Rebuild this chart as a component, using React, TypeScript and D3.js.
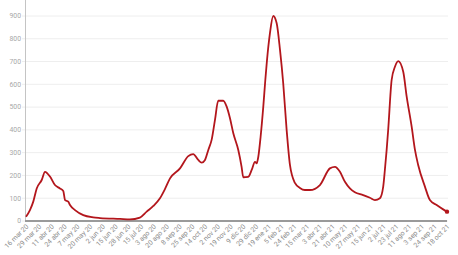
import React from "react";
import * as d3 from "d3";

const tickLabels = [
  "16 mar 20", "29 mar 20", "11 abr 20", "24 abr 20", "7 may 20", "20 may 20",
  "2 jun 20", "15 jun 20", "28 jun 20", "15 jul 20", "3 ago 20", "20 ago 20",
  "8 sep 20", "25 sep 20", "14 oct 20", "2 nov 20", "19 nov 20", "9 dic 20",
  "29 dic 20", "19 ene 21", "5 feb 21", "24 feb 21", "15 mar 21", "3 abr 21",
  "21 abr 21", "10 may 21", "27 may 21", "15 jun 21", "2 jul 21", "23 jul 21",
  "11 ago 21", "3 sep 21", "24 sep 21", "18 oct 21",
];

const yTicks = [0, 100, 200, 300, 400, 500, 600, 700, 800, 900];

// position in tick-label units, value
const positions = [
  0, 0.31, 0.57, 0.84, 1.23, 1.49, 1.88, 2.27, 2.66, 2.92, 3.06, 3.31, 3.45, 3.84,
  4.49, 5.27, 5.8, 7.37, 8.15, 8.93, 9.46, 9.98, 10.5, 10.89, 11.29, 12.07, 12.72,
  13.11, 13.5, 13.77, 14.03, 14.29, 14.55, 14.81, 15.07, 15.46, 15.73, 15.99, 16.25,
  16.64, 16.9, 17.03, 17.42, 17.69, 17.95, 18.08, 18.21, 18.39, 18.6, 18.76, 18.88,
  19.12, 19.38, 19.65, 19.91, 20.16, 20.43, 20.69, 21.08, 21.47, 21.86, 22.26, 23.04,
  23.82, 24.22, 24.61, 25.0, 25.39, 25.78, 26.43, 26.96, 27.35, 27.74, 28.0, 28.13,
  28.27, 28.39, 28.66, 28.92, 29.18, 29.57, 29.84, 30.23, 30.49, 30.74, 31.27, 31.66,
  32.19, 32.7, 33.0,
];
const values = [
  19, 48, 85, 143, 180, 216, 195, 158, 143, 132, 92, 85, 70, 48,
  26, 16, 13, 9, 7, 15, 41, 66, 100, 140, 187, 231, 285,
  294, 268, 256, 268, 312, 356, 443, 528, 528, 502, 451, 385,
  312, 238, 192, 194, 224, 260, 253, 282, 370, 502, 620, 700,
  824, 900, 868, 751, 606, 400, 246, 167, 145, 136, 136, 158,
  231, 238, 216, 172, 143, 126, 114, 102, 92, 100, 151, 224,
  312, 400, 619, 677, 702, 655, 546, 414, 312, 246, 151, 92,
  70, 51, 41,
];

export default function App() {
  const W = 458;
  const H = 255;
  const x = d3.scaleLinear().domain([0, tickLabels.length - 1]).range([26, 447]);
  const y = d3.scaleLinear().domain([0, 900]).range([221, 16]);
  const data = positions.map((p, i) => [p, values[i]] as [number, number]);
  const line = d3
    .line<[number, number]>()
    .x((d) => x(d[0]))
    .y((d) => y(d[1]))
    .curve(d3.curveMonotoneX);
  const last = data[data.length - 1];
  const font = "Roboto, 'Noto Sans', sans-serif";

  return (
    <svg
      width={W}
      height={H}
      style={{ position: "absolute", left: 0, top: 0, background: "#fff" }}
    >
      {yTicks.map((t) => (
        <g key={t}>
          <line x1={22} x2={448} y1={y(t)} y2={y(t)} stroke="#eeeeee" strokeWidth={1} />
          <text
            x={21}
            y={y(t)}
            dy="0.35em"
            textAnchor="end"
            fontSize={6.8}
            fill="#a8a8a8"
            fontFamily={font}
          >
            {t}
          </text>
        </g>
      ))}
      <line x1={25.5} x2={25.5} y1={0} y2={221} stroke="#c4c4c4" strokeWidth={1} />
      <line x1={25} x2={447} y1={221} y2={221} stroke="#9a9a9a" strokeWidth={2.2} />
      {tickLabels.map((l, i) => (
        <text
          key={l}
          transform={`translate(${x(i) + 3},${227}) rotate(-45)`}
          textAnchor="end"
          fontSize={6.8}
          fill="#8a8a8a"
          fontFamily={font}
        >
          {l}
        </text>
      ))}
      <path d={line(data) || ""} fill="none" stroke="#b3161c" strokeWidth={1.8} strokeLinejoin="round" />
      <circle cx={x(last[0])} cy={y(last[1])} r={2.2} fill="#b3161c" />
    </svg>
  );
}
